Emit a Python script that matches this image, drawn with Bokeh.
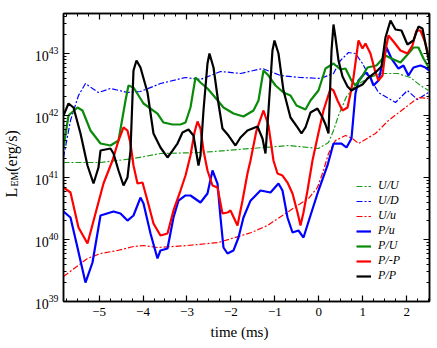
import numpy as np
from bokeh.plotting import figure
from bokeh.models import (FixedTicker, LinearAxis, LogAxis, Label, Legend, LegendItem,
                          CustomJSTickFormatter, Range1d)
from bokeh.embed import file_html
from bokeh.resources import INLINE

FONT = "Liberation Serif"

# ---- data: time (ms) and log10 of L_EM (erg/s) ----
t_UU = [-5.810, -4.968, -4.217, -3.603, -2.692, -1.532, -0.689, -0.007, 0.221, 0.335, 0.449, 0.631,
        0.835, 1.108, 1.404, 1.791, 2.087, 2.314, 2.496]
lg_UU = [41.242, 41.242, 41.306, 41.387, 41.403, 41.468, 41.516, 41.468, 41.565, 41.758, 42.000, 42.306,
         42.484, 42.597, 42.678, 42.678, 42.613, 42.484, 42.403]

t_UD = [-5.810, -5.651, -5.469, -5.310, -5.150, -5.014, -4.741, -4.354, -4.058, -3.603, -3.033, -2.692,
        -2.237, -1.782, -1.281, -0.871, -0.416, 0.039, 0.335, 0.494, 0.676, 0.835, 0.995, 1.176, 1.359,
        1.746, 2.018, 2.246, 2.496]
lg_UD = [41.323, 41.919, 42.323, 42.516, 42.436, 42.371, 42.436, 42.371, 42.387, 42.516, 42.613, 42.581,
         42.710, 42.678, 42.758, 42.645, 42.613, 42.597, 42.678, 42.887, 43.016, 43.000, 42.839, 42.597,
         42.371, 42.210, 42.403, 42.258, 42.371]

t_Uu = [-5.810, -5.264, -4.968, -4.581, -4.217, -3.989, -3.671, -2.988, -2.283, -1.532, -1.168, -0.758,
        -0.484, -0.234, -0.030, 0.107, 0.221, 0.380, 0.608, 0.767, 0.904, 1.290, 1.586, 1.882, 2.269, 2.496]
lg_Uu = [39.403, 39.694, 39.774, 39.823, 39.887, 39.903, 39.871, 39.903, 39.952, 40.113, 40.226, 40.419,
         40.548, 40.661, 40.839, 41.113, 41.387, 41.597, 41.677, 41.629, 41.548, 41.710, 41.919, 42.081,
         42.290, 42.274]

t_Pu = [-5.810, -5.651, -5.492, -5.310, -5.150, -4.968, -4.672, -4.513, -4.354, -4.217, -4.058, -3.989,
        -3.830, -3.671, -3.603, -3.443, -3.307, -3.193, -3.033, -2.920, -2.692, -2.533, -2.419, -2.305,
        -2.237, -2.169, -2.078, -1.941, -1.827, -1.714, -1.554, -1.327, -1.099, -0.917, -0.826, -0.712,
        -0.598, -0.462, -0.348, -0.189, -0.007, 0.198, 0.335, 0.517, 0.631, 0.744, 0.835, 0.904, 1.063,
        1.176, 1.245, 1.359, 1.427, 1.541, 1.654, 1.814, 1.928, 2.041, 2.155, 2.314, 2.428, 2.519]
lg_Pu = [40.452, 40.355, 39.871, 39.306, 39.629, 40.387, 40.452, 40.419, 40.306, 40.387, 40.677, 40.581,
         40.097, 39.694, 39.823, 39.855, 40.355, 40.626, 40.710, 40.710, 40.597, 40.742, 41.113, 40.903,
         40.355, 39.871, 39.774, 39.823, 40.032, 40.355, 40.626, 40.790, 40.758, 40.903, 40.790, 40.355,
         40.113, 40.145, 40.032, 40.387, 40.790, 41.194, 41.548, 41.548, 41.484, 41.629, 42.355, 42.565,
         42.694, 42.613, 42.484, 42.565, 42.774, 43.097, 42.919, 42.758, 42.806, 42.645, 42.774, 42.806,
         42.774, 42.726]

t_PU = [-5.810, -5.696, -5.492, -5.378, -5.196, -4.968, -4.741, -4.558, -4.399, -4.331, -4.217, -3.989,
        -3.671, -3.534, -3.329, -3.147, -3.033, -2.920, -2.806, -2.692, -2.533, -2.396, -2.169, -1.941,
        -1.714, -1.486, -1.372, -1.258, -1.145, -0.985, -0.803, -0.644, -0.507, -0.303, -0.189, -0.007,
        0.153, 0.335, 0.494, 0.608, 0.744, 0.835, 0.972, 1.108, 1.313, 1.518, 1.654, 1.859, 2.041, 2.155,
        2.269, 2.383, 2.519]
lg_PU = [41.484, 42.000, 42.129, 42.081, 41.758, 41.548, 41.516, 41.597, 42.242, 42.484, 42.452, 42.194,
         42.032, 41.887, 41.855, 41.855, 41.887, 42.129, 42.613, 42.532, 42.436, 42.323, 42.129, 42.032,
         41.984, 42.081, 42.242, 42.726, 42.645, 42.484, 42.371, 42.323, 42.161, 42.097, 42.242, 42.403,
         42.758, 42.839, 42.742, 42.758, 42.565, 42.484, 42.613, 42.774, 42.806, 42.968, 42.919, 42.855,
         43.000, 43.097, 43.097, 42.919, 42.758]

t_PmP = [-5.810, -5.651, -5.469, -5.264, -5.082, -4.900, -4.695, -4.558, -4.444, -4.354, -4.285, -4.217,
         -4.126, -4.012, -3.898, -3.762, -3.603, -3.443, -3.307, -3.147, -3.033, -2.920, -2.829, -2.761,
         -2.692, -2.624, -2.533, -2.419, -2.305, -2.192, -2.078, -2.010, -1.850, -1.737, -1.623, -1.554,
         -1.418, -1.258, -1.145, -1.031, -0.940, -0.826, -0.712, -0.598, -0.484, -0.416, -0.348, -0.257,
         -0.143, -0.030, 0.107, 0.267, 0.335, 0.426, 0.540, 0.654, 0.722, 0.790, 0.904, 0.995, 1.063,
         1.176, 1.290, 1.359, 1.450, 1.518, 1.586, 1.700, 1.859, 2.018, 2.132, 2.223, 2.314, 2.405, 2.519]
lg_PmP = [40.839, 40.758, 40.194, 39.935, 40.419, 40.903, 41.274, 41.597, 41.807, 41.758, 41.548, 41.194,
          40.903, 40.919, 40.626, 40.258, 40.065, 40.097, 40.468, 40.790, 41.032, 41.355, 41.726, 41.903,
          41.790, 41.435, 41.113, 40.871, 40.839, 40.419, 40.435, 40.468, 40.226, 40.626, 41.065, 41.274,
          41.758, 42.081, 41.839, 41.274, 41.065, 41.032, 40.919, 40.742, 40.435, 40.226, 40.435, 40.790,
          41.274, 41.645, 42.081, 42.436, 42.403, 42.242, 42.081, 42.129, 42.355, 42.613, 43.210, 43.081,
          43.161, 43.000, 42.694, 42.565, 42.645, 43.048, 43.290, 43.194, 43.048, 43.000, 43.129, 43.371,
          43.371, 43.210, 42.919]

t_PP = [-5.810, -5.696, -5.583, -5.423, -5.264, -5.127, -5.014, -4.968, -4.741, -4.672, -4.558, -4.444,
        -4.354, -4.285, -4.217, -4.149, -4.058, -3.898, -3.762, -3.603, -3.443, -3.329, -3.216, -3.102,
        -2.965, -2.852, -2.738, -2.692, -2.624, -2.533, -2.488, -2.396, -2.283, -2.192, -2.055, -1.896,
        -1.782, -1.623, -1.395, -1.281, -1.213, -1.145, -1.054, -1.008, -0.917, -0.803, -0.644, -0.484,
        -0.394, -0.303, -0.189, -0.030, 0.085, 0.153, 0.221, 0.290, 0.335, 0.380, 0.449, 0.540, 0.654,
        0.744, 0.858, 0.995, 1.108, 1.290, 1.427, 1.518, 1.632, 1.746, 1.882, 2.018, 2.155, 2.269, 2.360,
        2.428, 2.519]
lg_PP = [42.000, 42.194, 42.129, 41.710, 41.194, 40.903, 41.161, 41.435, 41.468, 41.387, 41.113, 40.871,
         41.000, 41.435, 42.726, 42.887, 42.774, 42.371, 41.710, 41.484, 41.323, 41.435, 41.548, 41.726,
         41.774, 41.677, 41.194, 41.355, 42.081, 42.839, 43.000, 42.774, 42.194, 41.790, 41.677, 41.516,
         41.645, 41.758, 41.823, 41.629, 41.387, 42.081, 43.048, 43.210, 43.000, 42.403, 41.968, 41.807,
         41.710, 41.807, 42.048, 42.113, 41.968, 41.855, 41.710, 43.048, 43.468, 43.258, 42.887, 42.629,
         42.468, 42.403, 42.452, 42.500, 42.597, 42.694, 42.790, 43.258, 43.532, 43.387, 43.371, 43.145,
         43.210, 43.435, 43.403, 43.161, 42.839]

series = [
    ("U/U", t_UU, lg_UU, "#1a9a1a", 1.2, "6 2 2 2"),
    ("U/D", t_UD, lg_UD, "#0000ff", 1.2, "6 2 2 2"),
    ("U/u", t_Uu, lg_Uu, "#ff0000", 1.2, "6 2 2 2"),
    ("P/u", t_Pu, lg_Pu, "#0000ff", 2.2, "solid"),
    ("P/U", t_PU, lg_PU, "#0a8a0a", 2.2, "solid"),
    ("P/-P", t_PmP, lg_PmP, "#ff0000", 2.2, "solid"),
    ("P/P", t_PP, lg_PP, "#000000", 2.2, "solid"),
]

x_major = list(range(-5, 3))
x_minor = [i * 0.25 for i in range(-23, 11)]
y_major = [10.0 ** e for e in range(39, 44)]
y_minor = [m * 10.0 ** e for e in range(39, 44) for m in range(2, 10)]

p = figure(width=437, height=348, x_range=Range1d(-5.81, 2.52), y_range=Range1d(1e39, 4.42e43),
           y_axis_type="log", output_backend="svg", toolbar_location=None,
           min_border_left=63, min_border_right=8, min_border_top=13, min_border_bottom=47)
p.grid.visible = False
p.outline_line_color = "black"
p.outline_line_width = 1.5
p.background_fill_color = "white"


def style_axis(ax, ticker, size):
    ax.ticker = ticker
    ax.major_tick_in = 6
    ax.major_tick_out = 0
    ax.minor_tick_in = 3
    ax.minor_tick_out = 0
    ax.major_tick_line_width = 1.2
    ax.minor_tick_line_width = 1.0
    ax.axis_line_width = 1.5
    ax.major_label_text_font = FONT
    ax.major_label_text_font_size = size
    ax.major_label_text_color = "black"


xt = FixedTicker(ticks=x_major, minor_ticks=x_minor)
yt = FixedTicker(ticks=y_major, minor_ticks=y_minor)
style_axis(p.xaxis[0], xt, "13px")
style_axis(p.yaxis[0], yt, "14px")
p.xaxis[0].major_label_standoff = 6
p.yaxis[0].major_label_standoff = 5

blank = CustomJSTickFormatter(code="return ''")
top = LinearAxis(formatter=blank, major_label_standoff=0)
style_axis(top, FixedTicker(ticks=x_major, minor_ticks=x_minor), "1px")
p.add_layout(top, "above")
right = LogAxis(formatter=CustomJSTickFormatter(code="return ''"), major_label_standoff=0)
style_axis(right, FixedTicker(ticks=y_major, minor_ticks=y_minor), "1px")
p.add_layout(right, "right")

items = []
for name, t, lg, col, w, dash in series:
    r = p.line(t, 10.0 ** np.array(lg), line_color=col, line_width=w, line_dash=dash)
    items.append(LegendItem(label=name, renderers=[r]))

legend = Legend(items=items, location=(293, 18), glyph_width=15, glyph_height=12, label_height=12,
                spacing=0, padding=0, margin=0, label_standoff=7, background_fill_alpha=0,
                border_line_alpha=0, label_text_font=FONT, label_text_font_style="italic",
                label_text_font_size="12px", label_text_color="black", label_text_line_height=1.0)
p.add_layout(legend)

# axis titles (canvas coordinates, origin top-left), placed in the side panels
lab = dict(x_units="canvas", y_units="canvas", text_font=FONT, text_color="black")
p.add_layout(Label(x=239, y=331, text="time (ms)", text_align="center", text_baseline="middle",
                   text_font_size="15px", **lab), "below")
p.add_layout(Label(x=11, y=197, text="L\u2003(erg/s)", angle=np.pi / 2, text_align="left",
                   text_baseline="alphabetic", text_font_size="16px", **lab), "left")
p.add_layout(Label(x=14, y=186, text="EM", angle=np.pi / 2, text_align="left",
                   text_baseline="alphabetic", text_font_size="10px", **lab), "left")

open("out.html", "w").write(file_html(p, INLINE))
